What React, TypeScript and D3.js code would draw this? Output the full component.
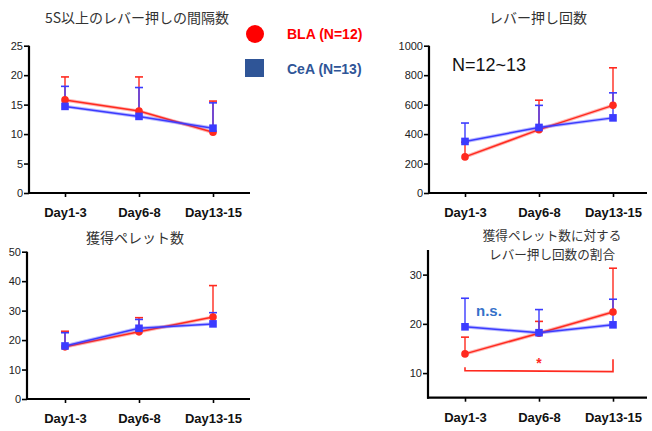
import * as d3 from "d3";
import { useEffect, useRef } from "react";

const days = ["Day1-3", "Day6-8", "Day13-15"];

// 5S以上のレバー押しの間隔数
const intervalBLA = [15.8, 13.9, 10.3];
const intervalBLAErr = [19.7, 19.7, 15.6];
const intervalCeA = [14.7, 13.0, 11.0];
const intervalCeAErr = [18.1, 17.9, 15.3];

// レバー押し回数
const pressBLA = [245, 430, 595];
const pressBLAErr = [345, 630, 850];
const pressCeA = [350, 445, 510];
const pressCeAErr = [475, 595, 680];

// 獲得ペレット数
const pelletBLA = [17.7, 22.8, 27.8];
const pelletBLAErr = [23.0, 27.6, 38.5];
const pelletCeA = [18.0, 24.0, 25.5];
const pelletCeAErr = [22.5, 27.0, 29.3];

// 獲得ペレット数に対するレバー押し回数の割合
const ratioBLA = [13.9, 18.1, 22.4];
const ratioBLAErr = [17.3, 20.5, 31.3];
const ratioCeA = [19.4, 18.2, 19.8];
const ratioCeAErr = [25.2, 22.9, 25.0];

const RED = "#ff2a1f";
const BLUE = "#3b3bff";
const JP = "'Noto Sans CJK JP', sans-serif";
const LAT = "'Liberation Sans', Arial, sans-serif";

interface PanelCfg {
    title: string[];
    titleX: number;
    titleY: number;
    axisX: number;
    xRight: number;
    yTop: number;
    yBottom: number;
    catX: [number, number];
    domain: [number, number];
    ticks: number[];
    bla: number[];
    blaErr: number[];
    cea: number[];
    ceaErr: number[];
}

const panels: PanelCfg[] = [
    {
        title: ["5S以上のレバー押しの間隔数"], titleX: 137, titleY: 23,
        axisX: 29, xRight: 250, yTop: 45.7, yBottom: 193, catX: [65, 213],
        domain: [0, 25], ticks: [0, 5, 10, 15, 20, 25],
        bla: intervalBLA, blaErr: intervalBLAErr, cea: intervalCeA, ceaErr: intervalCeAErr,
    },
    {
        title: ["レバー押し回数"], titleX: 538, titleY: 23,
        axisX: 429, xRight: 647, yTop: 45.7, yBottom: 193, catX: [465, 613],
        domain: [0, 1000], ticks: [0, 200, 400, 600, 800, 1000],
        bla: pressBLA, blaErr: pressBLAErr, cea: pressCeA, ceaErr: pressCeAErr,
    },
    {
        title: ["獲得ペレット数"], titleX: 135, titleY: 243,
        axisX: 27, xRight: 250, yTop: 251.7, yBottom: 399, catX: [65, 213],
        domain: [0, 50], ticks: [0, 10, 20, 30, 40, 50],
        bla: pelletBLA, blaErr: pelletBLAErr, cea: pelletCeA, ceaErr: pelletCeAErr,
    },
    {
        title: ["獲得ペレット数に対する", "レバー押し回数の割合"], titleX: 552, titleY: 240,
        axisX: 428, xRight: 647, yTop: 250, yBottom: 397.7, catX: [465, 613],
        domain: [5, 35], ticks: [10, 20, 30],
        bla: ratioBLA, blaErr: ratioBLAErr, cea: ratioCeA, ceaErr: ratioCeAErr,
    },
];

export default function App() {
    const svgRef = useRef<SVGSVGElement>(null);

    useEffect(() => {
        const svg = d3.select(svgRef.current);
        svg.selectAll("*").remove();

        panels.forEach((p, pi) => {
            const g = svg.append("g");
            const x = d3.scalePoint().domain(days).range(p.catX);
            const y = d3.scaleLinear().domain(p.domain).range([p.yBottom, p.yTop]);

            // title
            const multi = p.title.length > 1;
            p.title.forEach((t, i) => {
                g.append("text")
                    .attr("x", p.titleX)
                    .attr("y", p.titleY + i * 18.5)
                    .attr("text-anchor", "middle")
                    .attr("font-family", JP)
                    .attr("font-size", multi ? 12.6 : 14)
                    .attr("fill", "#333")
                    .text(t);
            });

            // y axis
            const ya = g.append("g")
                .attr("transform", `translate(${p.axisX},0)`)
                .call(d3.axisLeft(y).tickValues(p.ticks).tickFormat(d3.format("d"))
                    .tickSize(5).tickSizeOuter(0).tickPadding(1));
            ya.select(".domain").attr("stroke-width", 2.2).attr("d", `M0,${p.yTop}V${p.yBottom + 1}`);
            ya.selectAll(".tick line").attr("stroke-width", 1.6);
            ya.selectAll(".tick text").attr("font-family", LAT).attr("font-size", 11).attr("fill", "#222");

            // x axis
            const xa = g.append("g")
                .attr("transform", `translate(0,${p.yBottom})`)
                .call(d3.axisBottom(x).tickSize(4).tickSizeOuter(0).tickPadding(11));
            xa.select(".domain").attr("stroke-width", 2.2).attr("d", `M${p.axisX - 1},0H${p.xRight}`);
            xa.selectAll(".tick line").attr("stroke-width", 1.6);
            xa.selectAll(".tick text").attr("font-family", LAT).attr("font-size", 13)
                .attr("font-weight", "bold").attr("fill", "#111");

            const series = [
                { vals: p.bla, err: p.blaErr, color: RED, shape: "circle" },
                { vals: p.cea, err: p.ceaErr, color: BLUE, shape: "square" },
            ];

            series.forEach((s) => {
                // error bars (upper only)
                s.vals.forEach((v, i) => {
                    const cx = x(days[i])!;
                    g.append("line").attr("x1", cx).attr("x2", cx)
                        .attr("y1", y(v)).attr("y2", y(s.err[i]))
                        .attr("stroke", s.color).attr("stroke-width", 1.4);
                    g.append("line").attr("x1", cx - 4).attr("x2", cx + 4)
                        .attr("y1", y(s.err[i])).attr("y2", y(s.err[i]))
                        .attr("stroke", s.color).attr("stroke-width", 1.6);
                });
            });

            series.forEach((s) => {
                const line = d3.line<number>().x((_, i) => x(days[i])!).y((d) => y(d));
                g.append("path").attr("d", line(s.vals)!).attr("fill", "none")
                    .attr("stroke", s.color).attr("stroke-opacity", 0.35).attr("stroke-width", 3.5);
                g.append("path").attr("d", line(s.vals)!).attr("fill", "none")
                    .attr("stroke", s.color).attr("stroke-width", 1.5);
                s.vals.forEach((v, i) => {
                    const cx = x(days[i])!;
                    if (s.shape === "circle") {
                        g.append("circle").attr("cx", cx).attr("cy", y(v)).attr("r", 3.8).attr("fill", s.color);
                    } else {
                        g.append("rect").attr("x", cx - 3.8).attr("y", y(v) - 3.8)
                            .attr("width", 7.6).attr("height", 7.6).attr("fill", s.color);
                    }
                });
            });

            if (pi === 1) {
                g.append("text").attr("x", 452).attr("y", 71).attr("font-family", LAT)
                    .attr("font-size", 18).attr("fill", "#111").text("N=12~13");
            }
            if (pi === 3) {
                g.append("text").attr("x", 476).attr("y", 316).attr("font-family", LAT)
                    .attr("font-size", 15).attr("font-weight", "bold").attr("fill", "#3571c9").text("n.s.");
                const x0 = x(days[0])!;
                const x2 = x(days[2])!;
                g.append("path")
                    .attr("d", `M${x0},${y(11.2)}V${y(10.5)}L${x2},${y(10.3)}V${y(12.8)}`)
                    .attr("fill", "none").attr("stroke", RED).attr("stroke-width", 1.6);
                g.append("text").attr("x", x(days[1])!).attr("y", 368).attr("text-anchor", "middle")
                    .attr("font-family", LAT).attr("font-size", 14).attr("font-weight", "bold")
                    .attr("fill", RED).text("*");
            }
        });

        // legend
        const lg = svg.append("g");
        lg.append("circle").attr("cx", 255).attr("cy", 34).attr("r", 9).attr("fill", "#ff0000");
        lg.append("text").attr("x", 287).attr("y", 39).attr("font-family", LAT).attr("font-size", 14)
            .attr("font-weight", "bold").attr("fill", "#ff0000").text("BLA (N=12)");
        lg.append("rect").attr("x", 245).attr("y", 59).attr("width", 19).attr("height", 18).attr("fill", "#2f5597");
        lg.append("text").attr("x", 287).attr("y", 74).attr("font-family", LAT).attr("font-size", 14)
            .attr("font-weight", "bold").attr("fill", "#2f5597").text("CeA (N=13)");
    }, []);

    return (
        <svg
            ref={svgRef}
            width={652}
            height={431}
            style={{ position: "absolute", left: 0, top: 0, background: "#fff" }}
        />
    );
}
